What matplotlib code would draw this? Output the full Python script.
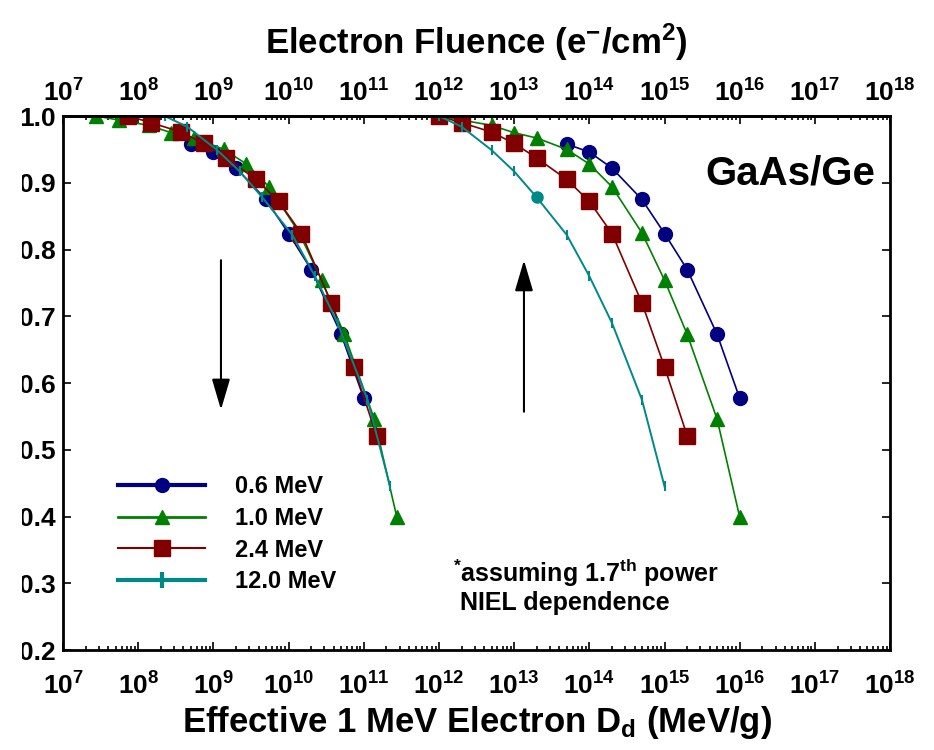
import math
import matplotlib
matplotlib.use("Agg")
import matplotlib.pyplot as plt
from matplotlib import font_manager
from matplotlib.lines import Line2D
from matplotlib.patches import Rectangle
from matplotlib.ticker import LogLocator, FixedLocator, FuncFormatter, NullFormatter

# narrow face for the tick numbers if it is there
names = {f.name for f in font_manager.fontManager.ttflist}
tick_face = 'Liberation Sans Narrow' if 'Liberation Sans Narrow' in names else 'Liberation Sans'

plt.rcParams['font.family'] = ['Liberation Sans', 'DejaVu Sans']
plt.rcParams['mathtext.fontset'] = 'custom'
plt.rcParams['mathtext.rm'] = tick_face + ':bold'
plt.rcParams['mathtext.it'] = 'Liberation Sans:italic'
plt.rcParams['mathtext.bf'] = 'Liberation Sans:bold'

# ---- data ----
labels = ['0.6 MeV', '1.0 MeV', '2.4 MeV', '12.0 MeV']

# 0.6 MeV
blue_fluence = [5e13, 1e14, 2e14, 5e14, 1e15, 2e15, 5e15, 1e16]
blue_dose = [5e8, 1e9, 2e9, 5e9, 1e10, 2e10, 5e10, 1e11]
blue_y = [0.958, 0.946, 0.922, 0.875, 0.824, 0.770, 0.673, 0.577]

# 1.0 MeV
green_fluence = [1e12, 2e12, 5e12, 1e13, 2e13, 5e13, 1e14, 2e14, 5e14, 1e15, 2e15, 5e15, 1e16]
green_dose = [2.75e7, 5.5e7, 1.38e8, 2.75e8, 5.5e8, 1.38e9, 2.75e9, 5.5e9, 1.38e10,
              2.75e10, 5.5e10, 1.38e11, 2.75e11]
green_y = [1.0, 0.994, 0.986, 0.975, 0.967, 0.950, 0.928, 0.894, 0.825, 0.754, 0.673, 0.546, 0.399]

# 2.4 MeV
red_fluence = [1e12, 2e12, 5e12, 1e13, 2e13, 5e13, 1e14, 2e14, 5e14, 1e15, 2e15]
red_dose = [7.4e7, 1.48e8, 3.7e8, 7.4e8, 1.48e9, 3.7e9, 7.4e9, 1.48e10, 3.7e10, 7.4e10, 1.48e11]
red_y = [1.0, 0.990, 0.976, 0.959, 0.937, 0.905, 0.872, 0.824, 0.720, 0.624, 0.521]

# 12.0 MeV
teal_fluence = [1e12, 2e12, 5e12, 1e13, 2e13, 5e13, 1e14, 2e14, 5e14, 1e15]
teal_dose = [2.24e8, 4.48e8, 1.12e9, 2.24e9, 4.48e9, 1.12e10, 2.24e10, 4.48e10, 1.12e11, 2.24e11]
teal_y = [1.0, 0.984, 0.949, 0.917, 0.878, 0.822, 0.760, 0.690, 0.575, 0.445]

blue = '#000080'
green = '#008000'
red = '#800000'
teal = '#008888'

fig = plt.figure(figsize=(9.34, 7.5), dpi=100)
ax = fig.add_axes([0.0675, 0.1333, 0.8855, 0.712])

series = [
    (blue_fluence, blue_dose, blue_y, blue, 'o', 10, 1.2),
    (green_fluence, green_dose, green_y, green, '^', 10, 1.2),
    (red_fluence, red_dose, red_y, red, 's', 11, 1.2),
]
for fl, dd, yy, c, m, ms, lw in series:
    for xs in (dd, fl):
        ax.plot(xs, yy, color=c, lw=lw, marker=m, ms=ms, mec=c, mfc=c)

for xs in (teal_dose, teal_fluence):
    ax.plot(xs, teal_y, color=teal, lw=1.4, marker='|', ms=7, mew=1.5)
# odd filled point on the 12 MeV fluence curve
ax.plot(teal_fluence[4], teal_y[4], 'o', color=teal, ms=8)

ax.set_xscale('log')
ax.set_xlim(1e7, 1e18)
ax.set_ylim(0.2, 1.0)

# ticks
def decade(v, p):
    return r'$10^{%d}$' % round(math.log10(v))

ax.xaxis.set_major_locator(LogLocator(base=10, numticks=20))
ax.xaxis.set_minor_locator(LogLocator(base=10, subs=range(2, 10), numticks=200))
ax.xaxis.set_minor_formatter(NullFormatter())
ax.xaxis.set_major_formatter(FuncFormatter(decade))
ax.yaxis.set_major_locator(FixedLocator([0.2, 0.3, 0.4, 0.5, 0.6, 0.7, 0.8, 0.9, 1.0]))
ax.yaxis.set_major_formatter(FuncFormatter(lambda v, p: '%.1f' % v))

ax.tick_params(which='both', direction='in', top=True, right=True, width=1.2)
ax.tick_params(which='major', length=6)
ax.tick_params(which='minor', length=3)
ax.tick_params(axis='x', labelsize=19, pad=16)
ax.tick_params(axis='y', labelsize=19, pad=5)
for t in ax.get_yticklabels():
    t.set_fontweight('bold')
for s in ax.spines.values():
    s.set_linewidth(2.0)

# top axis: same decades, fluence labels
secax = ax.secondary_xaxis('top')
secax.xaxis.set_major_locator(LogLocator(base=10, numticks=20))
secax.xaxis.set_minor_locator(LogLocator(base=10, subs=range(2, 10), numticks=200))
secax.xaxis.set_minor_formatter(NullFormatter())
secax.xaxis.set_major_formatter(FuncFormatter(decade))
secax.tick_params(which='both', length=0, labelsize=19, pad=7)
secax.spines['top'].set_linewidth(2.0)
secax.set_xlabel(r'Electron Fluence (e$^{\mathbf{-}}$/cm$^{\mathbf{2}}$)', fontsize=25,
                 fontweight='bold', labelpad=18)

ax.set_xlabel(r'Effective 1 MeV Electron D$_{\mathbf{d}}$ (MeV/g)', fontsize=25,
              fontweight='bold', labelpad=3)

# arrows
arrow_style = dict(arrowstyle='-|>,head_length=0.95,head_width=0.28',
                   color='black', lw=1.5, mutation_scale=20, shrinkA=0, shrinkB=0)
ax.annotate('', xy=(1.26e9, 0.56), xytext=(1.26e9, 0.784), arrowprops=arrow_style)
ax.annotate('', xy=(1.35e13, 0.784), xytext=(1.35e13, 0.557), arrowprops=arrow_style)

ax.text(0.982, 0.893, 'GaAs/Ge', transform=ax.transAxes, fontsize=29,
        fontweight='bold', ha='right', va='center')
ax.text(0.472, 0.12, '$^{*}$assuming 1.7$^{\\mathbf{th}}$ power\n NIEL dependence',
        transform=ax.transAxes, fontsize=18, fontweight='bold', ha='left', va='center',
        linespacing=1.1)

handles = [
    Line2D([], [], color=blue, lw=3, marker='o', ms=10),
    Line2D([], [], color=green, lw=2, marker='^', ms=10),
    Line2D([], [], color=red, lw=1.5, marker='s', ms=11),
    Line2D([], [], color=teal, lw=3, marker='|', ms=12, mew=3),
]
leg = ax.legend(handles, labels, loc='upper left', bbox_to_anchor=(0.055, 0.345),
                frameon=False, handlelength=3.7, handletextpad=1.27, labelspacing=0.37,
                borderaxespad=0, prop={'weight': 'bold', 'size': 17})

# left edge of the original image is cropped
fig.add_artist(Rectangle((0, 0), 22 / 934, 1, transform=fig.transFigure,
                         facecolor='white', edgecolor='none', zorder=10))

fig.savefig('out.png', dpi=100)
